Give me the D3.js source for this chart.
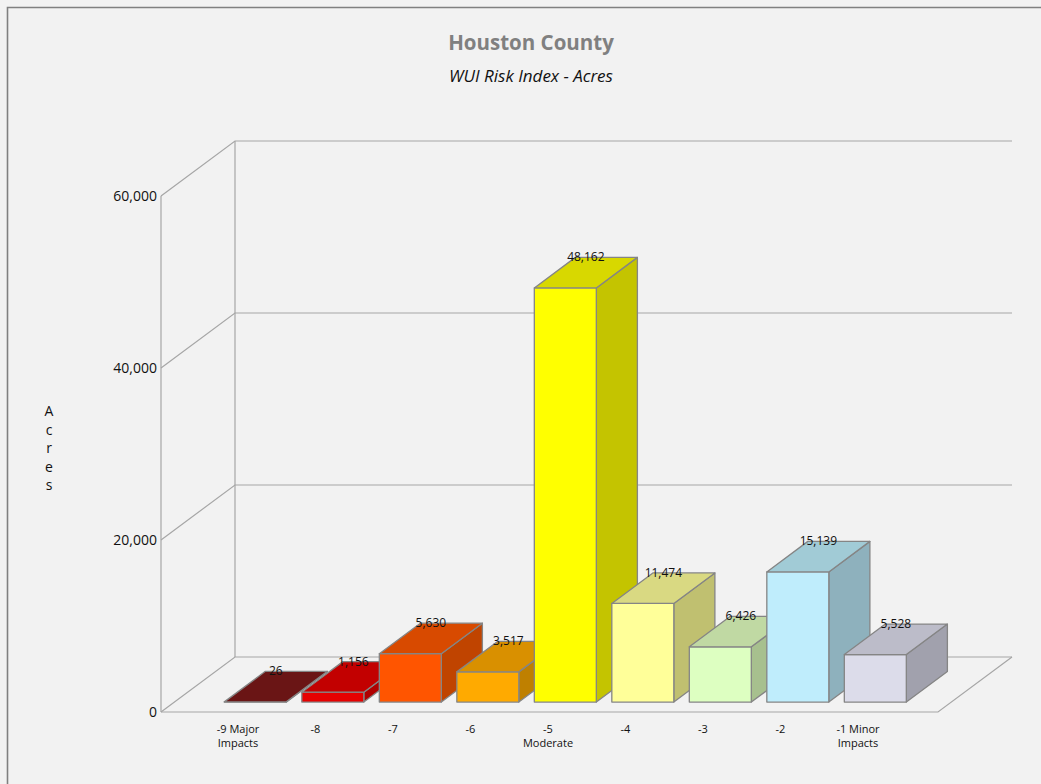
<!DOCTYPE html>
<html>
<head>
<meta charset="utf-8">
<script src="https://cdn.jsdelivr.net/npm/d3@7"></script>
<style>
  body { margin: 0; background: #f2f2f2; }
  svg { display: block; }
</style>
</head>
<body>
<div id="chart"></div>
<script>
var categories = ['-9', '-8', '-7', '-6', '-5', '-4', '-3', '-2', '-1'];
var categoryLabels = [['-9 Major', 'Impacts'], ['-8'], ['-7'], ['-6'], ['-5', 'Moderate'], ['-4'], ['-3'], ['-2'], ['-1 Minor', 'Impacts']];
var acres = [26, 1156, 5630, 3517, 48162, 11474, 6426, 15139, 5528];
var yTicks = [0, 20000, 40000, 60000];

var frontColors = ['#7a1818', '#e60000', '#ff5500', '#ffaa00', '#ffff00', '#ffff99', '#ddffc1', '#bfedfc', '#dcdcea'];
var topColors = ['#6a1515', '#c20000', '#d84a00', '#d99000', '#d8d800', '#d9d982', '#c0d9a3', '#a1cbd6', '#bcbcc9'];
var sideColors = ['#5a1010', '#b00000', '#c04400', '#bf8000', '#c4c400', '#c0c070', '#a7c08e', '#8eb1bd', '#a1a1ad'];

var width = 1041,
  height = 784;

var outline = '#858585',
  gridColor = '#a6a6a6';

// depth of the whole plot box (back wall offset) and the slab the bars sit in
var depthX = 74,
  depthY = 55,
  zFront = 0.18,
  zBack = 0.735,
  barWidth = 62;

var svg = d3.select('#chart').append('svg').attr('width', width).attr('height', height);

svg.append('rect').attr('width', width).attr('height', height).attr('fill', '#f2f2f2');

svg.append('path')
  .attr('d', 'M7.5,' + height + ' L7.5,7.5 L' + width + ',7.5')
  .attr('stroke', '#808080')
  .attr('stroke-width', 1.6)
  .attr('fill', 'none');

var x = d3.scalePoint().domain(categories).range([242, 862]);
var y = d3.scaleLinear().domain([0, 60000]).range([712, 196]);

var plotLeft = 161,
  plotRight = 938;

function proj(px, py, z) {
  return [px + z * depthX, py - z * depthY];
}

var line = d3.line();

// walls and grid
var grid = svg.append('g').attr('fill', 'none').attr('stroke', gridColor).attr('stroke-width', 1.2);

yTicks.forEach(function(t) {
  grid.append('path').attr('d', line([proj(plotLeft, y(t), 0), proj(plotLeft, y(t), 1), proj(plotRight, y(t), 1)]));
});
grid.append('path').attr('d', line([proj(plotLeft, y(0), 0), proj(plotLeft, y(60000), 0)]));
grid.append('path').attr('d', line([proj(plotLeft, y(0), 1), proj(plotLeft, y(60000), 1)]));
grid.append('path').attr('d', line([proj(plotLeft, y(0), 0), proj(plotRight, y(0), 0), proj(plotRight, y(0), 1)]));

// y tick labels
svg.append('g').selectAll('text')
  .data(yTicks)
  .enter().append('text')
  .attr('x', plotLeft - 4)
  .attr('y', function(d) { return y(d) + 5; })
  .attr('text-anchor', 'end')
  .attr('font-family', 'Open Sans, sans-serif')
  .attr('font-size', 14)
  .attr('fill', '#111')
  .text(function(d) { return d3.format(',')(d); });

// y axis title, one letter per line
var yTitle = svg.append('text')
  .attr('text-anchor', 'middle')
  .attr('font-family', 'Open Sans, sans-serif')
  .attr('font-size', 14)
  .attr('fill', '#111');
'Acres'.split('').forEach(function(ch, i) {
  yTitle.append('tspan').attr('x', 49).attr('y', 416 + i * 18.5).text(ch);
});

// bars
var bars = svg.append('g').attr('stroke', outline).attr('stroke-width', 1.3).attr('stroke-linejoin', 'round');

categories.forEach(function(c, i) {
  var x0 = x(c) - barWidth / 2,
    x1 = x(c) + barWidth / 2,
    y0 = y(0),
    y1 = y(acres[i]);

  var front = [proj(x0, y0, zFront), proj(x1, y0, zFront), proj(x1, y1, zFront), proj(x0, y1, zFront)];
  var side = [proj(x1, y0, zFront), proj(x1, y0, zBack), proj(x1, y1, zBack), proj(x1, y1, zFront)];
  var top = [proj(x0, y1, zFront), proj(x1, y1, zFront), proj(x1, y1, zBack), proj(x0, y1, zBack)];

  bars.append('path').attr('d', line(side) + 'Z').attr('fill', sideColors[i]);
  bars.append('path').attr('d', line(front) + 'Z').attr('fill', frontColors[i]);
  bars.append('path').attr('d', line(top) + 'Z').attr('fill', topColors[i]);
});

// value labels at the back edge of each top face
svg.append('g').selectAll('text')
  .data(acres)
  .enter().append('text')
  .attr('x', function(d, i) { return proj(x(categories[i]), y(d), (zFront + zBack) / 2)[0]; })
  .attr('y', function(d, i) { return proj(x(categories[i]), y(d), zBack)[1] + 4; })
  .attr('text-anchor', 'middle')
  .attr('font-family', 'Open Sans, sans-serif')
  .attr('font-size', 12)
  .attr('fill', '#111')
  .text(function(d) { return d3.format(',')(d); });

// category labels
var catText = svg.append('g').selectAll('text')
  .data(categoryLabels)
  .enter().append('text')
  .attr('text-anchor', 'middle')
  .attr('font-family', 'Open Sans, sans-serif')
  .attr('font-size', 11)
  .attr('fill', '#111');
catText.each(function(lines, i) {
  var t = d3.select(this);
  lines.forEach(function(l, j) {
    t.append('tspan').attr('x', x(categories[i]) - 4).attr('y', 733 + j * 13.5).text(l);
  });
});

// titles
svg.append('text')
  .attr('x', 531)
  .attr('y', 50)
  .attr('text-anchor', 'middle')
  .attr('font-family', 'Open Sans, sans-serif')
  .attr('font-weight', 'bold')
  .attr('font-size', 20.5)
  .attr('fill', '#808080')
  .text('Houston County');

svg.append('text')
  .attr('x', 531)
  .attr('y', 82)
  .attr('text-anchor', 'middle')
  .attr('font-family', 'Open Sans, sans-serif')
  .attr('font-style', 'italic')
  .attr('font-size', 17)
  .attr('fill', '#111')
  .text('WUI Risk Index - Acres');
</script>
</body>
</html>
